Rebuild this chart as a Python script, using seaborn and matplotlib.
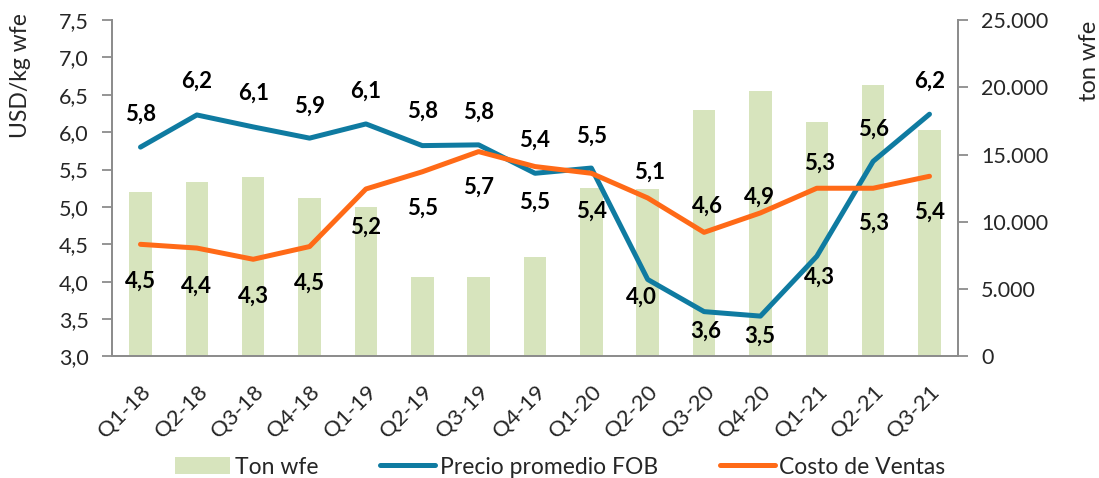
import numpy as np
import pandas as pd
import matplotlib
matplotlib.use("Agg")
import matplotlib.pyplot as plt
import matplotlib.ticker as mticker
from matplotlib.patches import Patch
from matplotlib.lines import Line2D
import seaborn as sns

# =====================================================
# DATA
# =====================================================

quarters = ["Q1-18", "Q2-18", "Q3-18", "Q4-18", "Q1-19", "Q2-19", "Q3-19", "Q4-19",
            "Q1-20", "Q2-20", "Q3-20", "Q4-20", "Q1-21", "Q2-21", "Q3-21"]

ton_wfe = [12200, 13000, 13300, 11800, 11100, 5900, 5900, 7400,
           12500, 12450, 18300, 19700, 17400, 20200, 16800]

precio_fob = [5.80, 6.23, 6.07, 5.92, 6.11, 5.82, 5.83, 5.45,
              5.52, 4.03, 3.60, 3.54, 4.34, 5.61, 6.24]

costo_ventas = [4.50, 4.45, 4.30, 4.47, 5.24, 5.47, 5.74, 5.54,
                5.45, 5.12, 4.66, 4.92, 5.25, 5.25, 5.41]

precio_labels = ["5,8", "6,2", "6,1", "5,9", "6,1", "5,8", "5,8", "5,4",
                 "5,5", "4,0", "3,6", "3,5", "4,3", "5,6", "6,2"]

costo_labels = ["4,5", "4,4", "4,3", "4,5", "5,2", "5,5", "5,7", "5,5",
                "5,4", "5,1", "4,6", "4,9", "5,3", "5,3", "5,4"]

# label offsets in pixels (dx, dy), dy positive = up
precio_off = [(0, 33), (0, 34), (0, 34), (0, 32), (0, 33), (0, 34), (0, 33), (0, 33),
              (0, 32), (-6, -18), (2, -20), (-1, -20), (3, -21), (0, 32), (0, 33)]
costo_off = [(0, -37), (0, -38), (0, -37), (0, -37), (0, -38), (0, -36), (0, -36), (0, -36),
             (0, -38), (2, 26), (3, 26), (-1, 16), (3, 25), (0, -35), (0, -36)]

df = pd.DataFrame({
    "quarter": quarters,
    "pos": np.arange(len(quarters)),
    "ton": ton_wfe,
    "precio": precio_fob,
    "costo": costo_ventas,
})

bar_color = "#D7E4BD"
blue = "#0F7BA1"
orange = "#FF6A17"
spine_color = "#8C8C8C"

sns.set_style("white")
plt.rcParams["font.family"] = ["Lato", "DejaVu Sans"]

# =====================================================
# FIGURE
# =====================================================

fig = plt.figure(figsize=(10.99, 4.78), dpi=100)
ax = fig.add_axes([0.1022, 0.2542, 0.7692, 0.7040])
ax2 = ax.twinx()

# bars on secondary axis (drawn behind the lines)
sns.barplot(data=df, x="pos", y="ton", ax=ax2, color=bar_color,
            width=0.40, saturation=1, edgecolor="none", native_scale=True)

sns.lineplot(data=df, x="pos", y="precio", ax=ax, color=blue, linewidth=3.6)
sns.lineplot(data=df, x="pos", y="costo", ax=ax, color=orange, linewidth=3.6)

ax.set_zorder(ax2.get_zorder() + 1)
ax.patch.set_visible(False)

# =====================================================
# DATA LABELS
# =====================================================

for i in range(len(quarters)):
    ax.annotate(precio_labels[i], (df["pos"][i], precio_fob[i]),
                xytext=precio_off[i], textcoords="offset pixels",
                ha="center", va="center", fontsize=16, fontweight="bold",
                color="black")
    ax.annotate(costo_labels[i], (df["pos"][i], costo_ventas[i]),
                xytext=costo_off[i], textcoords="offset pixels",
                ha="center", va="center", fontsize=16, fontweight="bold",
                color="black")

# =====================================================
# AXES
# =====================================================

ax.set_xlim(-0.5, len(quarters) - 0.5)
ax.set_ylim(3.0, 7.5)
ax2.set_ylim(0, 25000)

ax.set_yticks(np.arange(3.0, 7.51, 0.5))
ax.yaxis.set_major_formatter(mticker.FuncFormatter(lambda v, p: f"{v:.1f}".replace(".", ",")))
ax2.set_yticks(np.arange(0, 25001, 5000))
ax2.yaxis.set_major_formatter(mticker.FuncFormatter(lambda v, p: f"{int(v):,}".replace(",", ".")))

ax.set_xticks(df["pos"])
ax.set_xticklabels(quarters, rotation=45, ha="right", rotation_mode="anchor")
ax.set_xticks(np.arange(-0.5, len(quarters)), minor=True)
ax.tick_params(axis="x", which="major", length=0, pad=18, labelsize=16)
ax.tick_params(axis="x", which="minor", length=7, width=1.3, color=spine_color, direction="out")
ax.tick_params(axis="y", length=7, width=1.3, color=spine_color, direction="out", labelsize=15.5, pad=10)
ax2.tick_params(axis="y", length=7, width=1.3, color=spine_color, direction="out", labelsize=15.5, pad=10)

ax.set_xlabel("")
ax2.set_xlabel("")
ax.set_ylabel("USD/kg wfe", fontsize=16.5)
ax2.set_ylabel("ton wfe", fontsize=17)
ax.yaxis.set_label_coords(-0.096, 0.834)
ax2.yaxis.set_label_coords(1.1435, 0.878)

for a in (ax, ax2):
    a.spines["top"].set_visible(False)
    for s in ("left", "right", "bottom"):
        a.spines[s].set_color(spine_color)
        a.spines[s].set_linewidth(1.3)
    a.grid(False)

# =====================================================
# LEGEND
# =====================================================

handles = [
    Patch(facecolor=bar_color, edgecolor="none"),
    Line2D([0], [0], color=blue, linewidth=3.6),
    Line2D([0], [0], color=orange, linewidth=3.6),
]
fig.legend(handles, ["Ton wfe", "Precio promedio FOB", "Costo de Ventas"],
           loc="center", bbox_to_anchor=(0.51, 0.023), ncol=3, frameon=False,
           fontsize=16.5, handlelength=2.4, handleheight=0.7, handletextpad=0.2,
           columnspacing=2.7)

fig.savefig("out.png", dpi=100)
